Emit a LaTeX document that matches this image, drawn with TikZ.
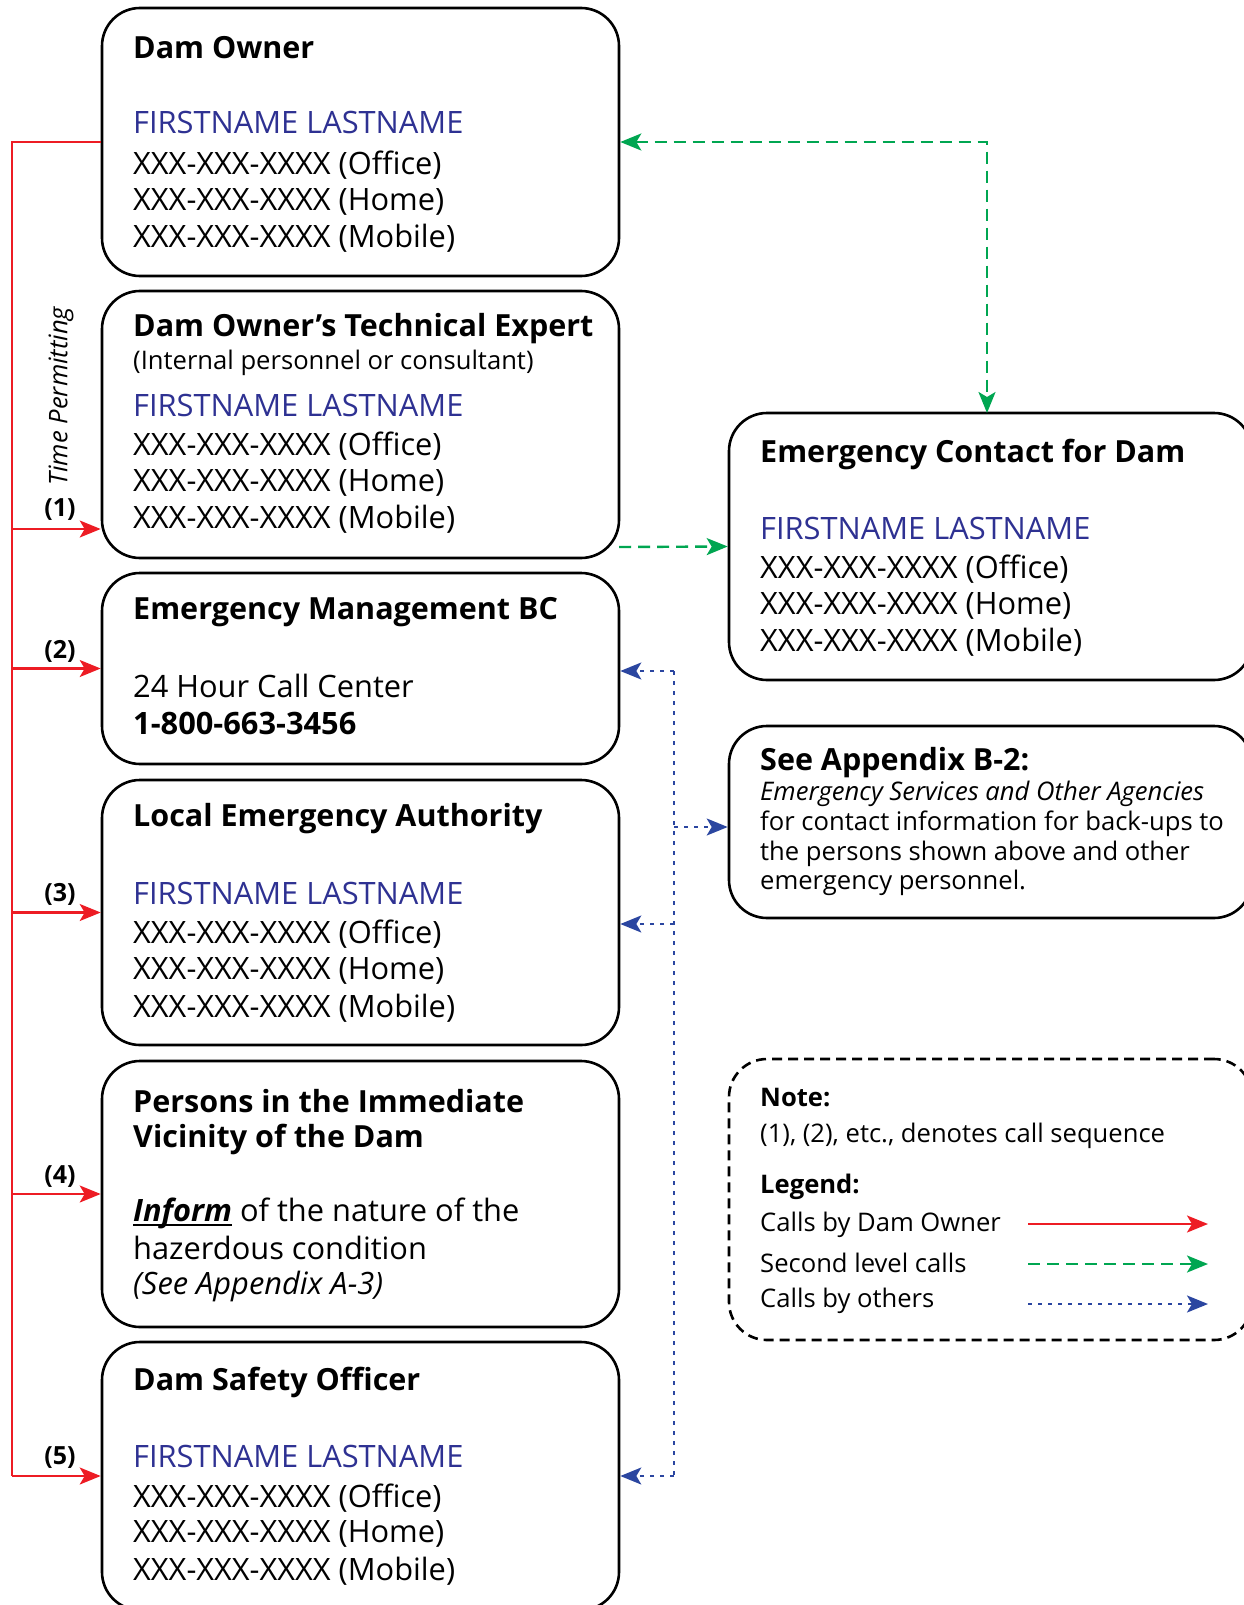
\documentclass[tikz,border=0pt]{standalone}
\usepackage{fontspec}
\setmainfont{Open Sans}
\usetikzlibrary{arrows.meta}
\definecolor{cred}{HTML}{ED1C24}
\definecolor{cgreen}{HTML}{00A651}
\definecolor{cblue}{HTML}{2B46A0}
\definecolor{cname}{HTML}{2E3192}
\newcommand\bodyfs{\fontsize{30.8}{36.5}\selectfont}
\newcommand\titlefs{\fontsize{30.5}{35}\selectfont\bfseries}
\newcommand\smallfs{\fontsize{25.6}{29}\selectfont}
\newcommand\labfs{\fontsize{25}{28}\selectfont\bfseries}
\newcommand\thickul[1]{\setbox0\hbox{#1}\rlap{\rule[-4.5pt]{\wd0}{2pt}}\box0\relax}
\tikzset{
  box/.style={draw, line width=2.6pt, rounded corners=38pt, inner sep=0pt, minimum width=517pt},
  rbox/.style={draw, line width=2.6pt, rounded corners=38pt, inner sep=0pt, minimum width=523pt},
  txt/.style={anchor=west, inner sep=0pt, font=\bodyfs},
  ttl/.style={anchor=west, inner sep=0pt, font=\titlefs},
  sml/.style={anchor=west, inner sep=0pt, font=\smallfs},
  nm/.style={txt, text=cname},
  lab/.style={anchor=center, inner sep=0pt, font=\labfs},
  tip/.style={-{Stealth[length=21pt, width=17pt, inset=5pt]}},
  redln/.style={draw=cred, line width=2.2pt},
  redarr/.style={redln, tip, cred},
  greenarr/.style={draw=cgreen, line width=2.4pt, dash pattern=on 12pt off 7pt, tip, cgreen},
  bluearr/.style={draw=cblue, line width=2.2pt, dash pattern=on 4pt off 6pt, tip, cblue},
}
\begin{document}
\begin{tikzpicture}[x=1pt, y=-1pt]
\useasboundingbox (0,0) rectangle (1243,1605);
% left column boxes
\node[box, minimum height=268pt] (b1) at (360.5,142) {};
\node[box, minimum height=267pt] (b2) at (360.5,424.5) {};
\node[box, minimum height=191pt] (b3) at (360.5,668.5) {};
\node[box, minimum height=265pt] (b4) at (360.5,912.5) {};
\node[box, minimum height=266pt] (b5) at (360.5,1194) {};
\node[box, minimum height=268pt] (b6) at (360.5,1476) {};
% right column boxes
\node[rbox, minimum height=267pt] (ba) at (990.5,546.5) {};
\node[rbox, minimum height=192pt] (bb) at (990.5,822) {};
\node[rbox, minimum height=281pt, dash pattern=on 10pt off 6pt] (bl) at (990.5,1199.5) {};

% box 1
\node[ttl] (t1) at (133,48) {Dam Owner};
\node[nm] (n1) at (133,123) {FIRSTNAME LASTNAME};
\node[txt] (o1) at (133,165) {XXX-XXX-XXXX (Office)};
\node[txt] (h1) at (133,201.5) {XXX-XXX-XXXX (Home)};
\node[txt] (m1) at (133,238) {XXX-XXX-XXXX (Mobile)};
% box 2
\node[ttl] (t2) at (133,329) {Dam Owner’s Technical Expert};
\node[sml] (s2) at (133,363) {(Internal personnel or consultant)};
\node[nm] (n2) at (133,405) {FIRSTNAME LASTNAME};
\node[txt] (o2) at (133,446) {XXX-XXX-XXXX (Office)};
\node[txt] (h2) at (133,483) {XXX-XXX-XXXX (Home)};
\node[txt] (m2) at (133,519) {XXX-XXX-XXXX (Mobile)};
% box 3
\node[ttl] (t3) at (133,612) {Emergency Management BC};
\node[txt] (c3) at (133,686) {24 Hour Call Center};
\node[txt, font=\bodyfs\bfseries] (p3) at (133,723) {1-800-663-3456};
% box 4
\node[ttl] (t4) at (133,819) {Local Emergency Authority};
\node[nm] (n4) at (133,893) {FIRSTNAME LASTNAME};
\node[txt] (o4) at (133,934) {XXX-XXX-XXXX (Office)};
\node[txt] (h4) at (133,971) {XXX-XXX-XXXX (Home)};
\node[txt] (m4) at (133,1008) {XXX-XXX-XXXX (Mobile)};
% box 5
\node[ttl] (t5a) at (133,1101) {Persons in the Immediate};
\node[ttl] (t5b) at (133,1139) {Vicinity of the Dam};
\node[txt] (i5) at (133,1213) {\thickul{\textbf{\textit{Inform}}} of the nature of the};
\node[txt] (z5) at (133,1248) {hazerdous condition};
\node[txt, font=\bodyfs\itshape] (a5) at (133,1286) {(See Appendix A-3)};
% box 6
\node[ttl] (t6) at (133,1382) {Dam Safety Officer};
\node[nm] (n6) at (133,1456) {FIRSTNAME LASTNAME};
\node[txt] (o6) at (133,1498) {XXX-XXX-XXXX (Office)};
\node[txt] (h6) at (133,1534) {XXX-XXX-XXXX (Home)};
\node[txt] (m6) at (133,1571) {XXX-XXX-XXXX (Mobile)};
% box A
\node[ttl] (ta) at (760,454) {Emergency Contact for Dam};
\node[nm] (na) at (760,528) {FIRSTNAME LASTNAME};
\node[txt] (oa) at (760,569) {XXX-XXX-XXXX (Office)};
\node[txt] (ha) at (760,606) {XXX-XXX-XXXX (Home)};
\node[txt] (ma) at (760,642) {XXX-XXX-XXXX (Mobile)};
% box B
\node[ttl] (tb) at (760,763) {See Appendix B-2:};
\node[sml, font=\smallfs\itshape] (ib) at (760,794) {Emergency Services and Other Agencies};
\node[sml] (lb1) at (760,824) {for contact information for back-ups to};
\node[sml] (lb2) at (760,854) {the persons shown above and other};
\node[sml] (lb3) at (760,883) {emergency personnel.};
% legend
\node[sml, font=\smallfs\bfseries] (ln) at (760,1098) {Note:};
\node[sml] (ls) at (760,1136) {(1), (2), etc., denotes call sequence};
\node[sml, font=\smallfs\bfseries] (lg) at (760,1187) {Legend:};
\node[sml] (l1) at (760,1225) {Calls by Dam Owner};
\node[sml] (l2) at (760,1263) {Second level calls};
\node[sml] (l3) at (760,1301) {Calls by others};
\coordinate (la1) at (1028,1224); \coordinate (lb1e) at (1208,1224);
\coordinate (la2) at (1028,1264); \coordinate (lb2e) at (1208,1264);
\coordinate (la3) at (1028,1304); \coordinate (lb3e) at (1208,1304);
\draw[redarr] (la1) -- (lb1e);
\draw[greenarr] (la2) -- (lb2e);
\draw[bluearr] (la3) -- (lb3e);

% red calls
\coordinate (rtop) at (12,142);
\coordinate (r1) at (12,529);
\coordinate (r2) at (12,668.5);
\coordinate (r3) at (12,912.5);
\coordinate (r4) at (12,1194);
\coordinate (r5) at (12,1476);
\draw[redln] (b1.west) -- (rtop) -- (r5);
\draw[redarr] (r1) -- (r1 -| b2.west);
\draw[redarr] (r2) -- (b3.west);
\draw[redarr] (r3) -- (b4.west);
\draw[redarr] (r4) -- (b5.west);
\draw[redarr] (r5) -- (b6.west);
\node[lab] (k1) at (60,510) {(1)};
\node[lab] (k2) at (60,651) {(2)};
\node[lab] (k3) at (60,894) {(3)};
\node[lab] (k4) at (60,1177) {(4)};
\node[lab] (k5) at (60,1458) {(5)};
\node[inner sep=0pt, font=\smallfs\itshape, rotate=90] (tp) at (61,396) {Time Permitting};

% green calls
\coordinate (gc) at (987,142);
\coordinate (gd) at (987,413);
\draw[greenarr, {Stealth[length=21pt, width=17pt, inset=5pt]}-{Stealth[length=21pt, width=17pt, inset=5pt]}] (b1.east) -- (gc) -- (gd);
\coordinate (g2) at (619,547);
\draw[greenarr] (g2) -- (ba.west);

% blue calls
\coordinate (v1) at (674,671);
\coordinate (v2) at (674,827);
\coordinate (v3) at (674,924);
\coordinate (v4) at (674,1476);
\draw[draw=cblue, line width=2.2pt, dash pattern=on 4pt off 6pt] (v1) -- (v4);
\draw[bluearr] (v1) -- (v1 -| b3.east);
\draw[bluearr] (v2) -- (v2 -| bb.west);
\draw[bluearr] (v3) -- (v3 -| b4.east);
\draw[bluearr] (v4) -- (b6.east);
\end{tikzpicture}
\end{document}
